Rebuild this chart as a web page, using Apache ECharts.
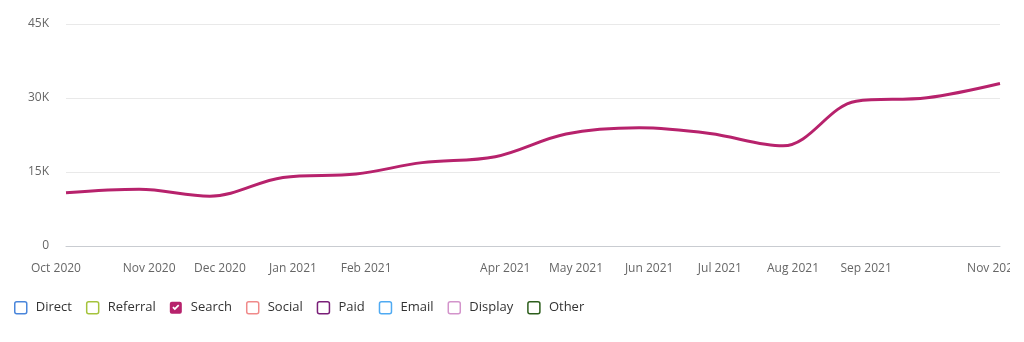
<!DOCTYPE html>
<html>
<head>
<meta charset="utf-8">
<script src="https://cdn.jsdelivr.net/npm/echarts@6/dist/echarts.min.js"></script>
<style>
html,body{margin:0;padding:0;background:#fff;}
#chart{width:1010px;height:342px;}
</style>
</head>
<body>
<div id="chart"></div>
<script>
// ---- data ----
const months = ['2020-10','2020-11','2020-12','2021-01','2021-02','2021-03','2021-04','2021-05','2021-06','2021-07','2021-08','2021-09','2021-10','2021-11'];
const searchValues = [10800, 11500, 10100, 13900, 14600, 16900, 18100, 22700, 23950, 22800, 20300, 29350, 30050, 32950];
const tickLabels = ['Oct 2020','Nov 2020','Dec 2020','Jan 2021','Feb 2021','','Apr 2021','May 2021','Jun 2021','Jul 2021','Aug 2021','Sep 2021','','Nov 2021'];
const legendNames = ['Direct','Referral','Search','Social','Paid','Email','Display','Other'];
const legendColors = ['#4a86db','#a5c33c','#b7226c','#f08a8a','#7a1f78','#4faaf2','#d394cb','#2d5e1c'];
const yTicks = [0, 15000, 30000, 45000];

// day offsets from the first month (time scale measured in days)
const DAY = 86400000;
function ts(m){ const p = m.split('-'); return Date.UTC(+p[0], +p[1]-1, 1); }
const t0 = ts(months[0]);
const days = months.map(m => Math.round((ts(m) - t0) / DAY));
const searchData = days.map((d,i)=>[d, searchValues[i]]);

const roundBox = 'path://M2,0 H10 Q12,0 12,2 V10 Q12,12 10,12 H2 Q0,12 0,10 V2 Q0,0 2,0 Z';
const checkIcon = roundBox + ' M2.5,6 L5,8.5 L9.5,4 L8.3,2.8 L5,6.1 L3.7,4.8 Z';

const series = legendNames.map((n,i)=>{
  if (n === 'Search') {
    return {name:n, type:'line', data:searchData, smooth:0.35, symbol:'none',
      lineStyle:{color:legendColors[i], width:3}, itemStyle:{color:legendColors[i]}};
  }
  return {name:n, type:'line', data:[], symbol:'none', itemStyle:{color:legendColors[i]}, lineStyle:{color:legendColors[i]}};
});

const legendData = legendNames.map((n,i)=>{
  if (n === 'Search') return {name:n, icon:checkIcon, itemStyle:{color:legendColors[i], borderWidth:0}};
  return {name:n, icon:roundBox, itemStyle:{color:'#ffffff', borderColor:legendColors[i], borderWidth:1.5}};
});

const labelFont = {fontFamily:'Open Sans', fontSize:12, color:'#666666'};

const chart = echarts.init(document.getElementById('chart'), null, {renderer:'canvas'});
chart.setOption({
  animation:false,
  backgroundColor:'#ffffff',
  grid:{left:66, right:10, top:24, bottom:96, containLabel:false, outerBoundsMode:'none'},
  xAxis:{
    type:'value', min:days[0], max:days[days.length-1],
    axisLine:{show:true, lineStyle:{color:'#c9ccd1', width:1}},
    axisTick:{show:false},
    splitLine:{show:false},
    axisLabel:{
      customValues: days.filter((d,i)=>tickLabels[i] !== ''),
      margin:17,
      fontFamily:'Open Sans', fontSize:12, color:'#666666',
      formatter:function(v){
        const idx = days.indexOf(Math.round(v));
        if (idx < 0) return '';
        const txt = tickLabels[idx];
        if (!txt) return '';
        if (idx === 0) return '{l|' + txt + '}';
        if (idx === days.length-1) return '{e|' + txt + '}';
        return '{r|' + txt + '}';
      },
      rich:{
        l:Object.assign({padding:[0,20,0,0]}, labelFont),
        r:Object.assign({padding:[0,0,0,20]}, labelFont),
        e:Object.assign({padding:[0,13,0,0]}, labelFont)
      }
    }
  },
  yAxis:{
    type:'value', min:yTicks[0], max:yTicks[yTicks.length-1], interval:yTicks[1]-yTicks[0],
    axisLine:{show:false}, axisTick:{show:false},
    splitLine:{lineStyle:{color:'#e9e9e9', width:1}},
    axisLabel:{margin:17, fontFamily:'Open Sans', fontSize:12, color:'#666666',
      formatter:function(v){ return v === 0 ? '0' : (v/1000) + 'K'; }}
  },
  legend:{
    left:14, top:301, padding:0, itemWidth:12, itemHeight:12, itemGap:14,
    data:legendData,
    textStyle:{fontFamily:'Open Sans', fontSize:13, color:'#333333', padding:[0,0,0,4]},
    selectedMode:false
  },
  series:series
});
</script>
</body>
</html>
